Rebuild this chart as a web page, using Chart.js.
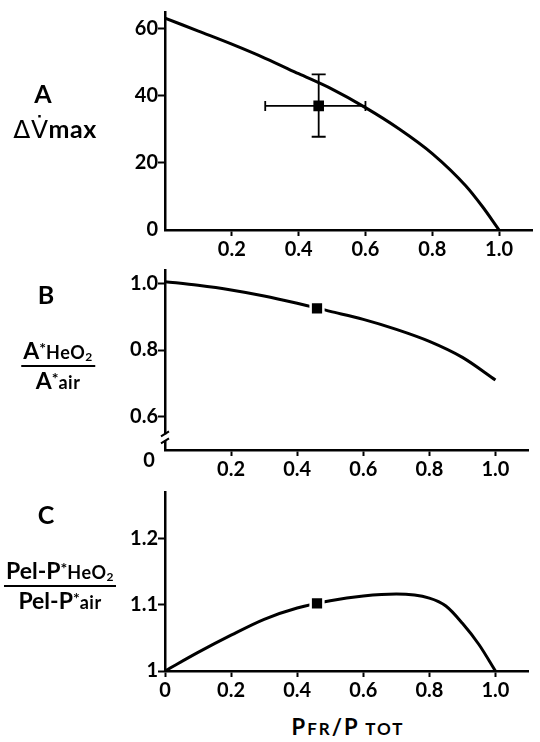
<!DOCTYPE html>
<html>
<head>
<meta charset="utf-8">
<script src="https://cdn.jsdelivr.net/npm/chart.js@4.4.0/dist/chart.umd.min.js"></script>
<style>
  body { margin: 0; background: #fff; width: 540px; height: 742px; overflow: hidden; position: relative;
         font-family: Lato, "DejaVu Sans", sans-serif; font-weight: 700; color: #000; }
  canvas { position: absolute; left: 0; }
  .lbl { position: absolute; transform: translate(-50%, -50%); white-space: nowrap; line-height: 1; }
  .panel-letter { font-size: 25px; }
  .frac { position: absolute; transform: translateX(-50%); text-align: center; font-size: 23px; line-height: 1; white-space: nowrap; }
  .frac .num { border-bottom: 2.5px solid #000; padding: 0 2px 2px 2px; }
  .frac .den { padding-top: 2px; }
  .frac sup { font-size: 16px; vertical-align: 5px; }
  .frac .s { font-size: 18px; letter-spacing: 0.5px; }
  .frac sub { font-size: 12px; vertical-align: -2px; }
  .dv { font-size: 25px; letter-spacing: 0.5px; }
  .dv .g { font-family: "DejaVu Sans", sans-serif; font-weight: 400; }
  .xt { font-size: 22px; letter-spacing: 2px; }
  .xt .sc { font-size: 17px; }
</style>
</head>
<body>
<canvas id="chartA" width="540" height="265" style="top:0"></canvas>
<canvas id="chartB" width="540" height="222" style="top:258px"></canvas>
<canvas id="chartC" width="540" height="232" style="top:480px"></canvas>

<div class="lbl panel-letter" style="left:43px;top:93px">A</div>
<div class="lbl dv" style="left:55px;top:129px"><span class="g">ΔV̇</span>max</div>

<div class="lbl panel-letter" style="left:46px;top:294px">B</div>
<div class="frac" style="left:58px;top:339px">
  <div class="num">A<sup>*</sup><span class="s">HeO<sub>2</sub></span></div>
  <div class="den">A<sup>*</sup><span class="s">air</span></div>
</div>

<div class="lbl panel-letter" style="left:46px;top:514px">C</div>
<div class="frac" style="left:60px;top:559px">
  <div class="num">Pel-P<sup>*</sup><span class="s">HeO<sub>2</sub></span></div>
  <div class="den">Pel-P<sup>*</sup><span class="s">air</span></div>
</div>

<div class="lbl xt" style="left:348px;top:727px">P<span class="sc">FR</span>/P<span class="sc"> TOT</span></div>

<script>
// Panel A: delta Vmax against Pfr/Ptot
const ratioA = [0, 0.1, 0.2, 0.3, 0.4, 0.5, 0.6, 0.7, 0.8, 0.9, 0.95, 1.0];
const dVmax = [63.2, 59.3, 55.4, 51.2, 46.6, 42.0, 36.5, 30.2, 22.8, 13.2, 7.0, 0];
const pointA = [0.46, 37];
const errXA = [0.30, 0.60];
const errYA = [27.8, 46.4];

// Panel B: A*HeO2 / A*air
const ratioB = [0, 0.1, 0.2, 0.3, 0.4, 0.5, 0.6, 0.7, 0.8, 0.9, 1.0];
const areaRatio = [1.005, 0.994, 0.980, 0.962, 0.940, 0.916, 0.892, 0.862, 0.826, 0.778, 0.710];
const pointB = [0.46, 0.925];

// Panel C: (Pel-P*HeO2) / (Pel-P*air)
const ratioC = [0, 0.1, 0.2, 0.3, 0.4, 0.5, 0.6, 0.7, 0.8, 0.85, 0.9, 0.95, 1.0];
const pressRatio = [1.0, 1.028, 1.054, 1.078, 1.095, 1.106, 1.113, 1.116, 1.110, 1.098, 1.072, 1.040, 1.0];
const pointC = [0.46, 1.102];

// tick labels
const xTicksAB = [0.2, 0.4, 0.6, 0.8, 1.0];
const xTicksC = [0, 0.2, 0.4, 0.6, 0.8, 1.0];
const yTicksA = [0, 20, 40, 60];
const yTicksB = [0.6, 0.8, 1.0];
const yTicksC = [1, 1.1, 1.2];

const tickFont = { family: 'Lato, "DejaVu Sans", sans-serif', size: 20, weight: 'bold' };

function pairs(xs, ys) {
    return xs.map((x, i) => ({ x: x, y: ys[i] }));
}

const oneDecimal = v => v.toFixed(1);
const plainZero = v => v === 0 ? '0' : v.toFixed(1);

// error bars for the measured point in panel A
const errorBars = {
    id: 'errorBars',
    beforeDatasetsDraw(chart) {
        const { ctx } = chart;
        const x = chart.scales.x, y = chart.scales.y;
        const cx = x.getPixelForValue(pointA[0]);
        const cy = y.getPixelForValue(pointA[1]);
        const x0 = x.getPixelForValue(errXA[0]), x1 = x.getPixelForValue(errXA[1]);
        const y0 = y.getPixelForValue(errYA[0]), y1 = y.getPixelForValue(errYA[1]);
        const cap = 5;
        ctx.save();
        ctx.strokeStyle = '#000';
        ctx.lineWidth = 1.8;
        ctx.beginPath();
        ctx.moveTo(x0, cy); ctx.lineTo(x1, cy);
        ctx.moveTo(x0, cy - cap); ctx.lineTo(x0, cy + cap);
        ctx.moveTo(x1, cy - cap); ctx.lineTo(x1, cy + cap);
        ctx.moveTo(cx, y0); ctx.lineTo(cx, y1);
        ctx.moveTo(cx - cap - 2, y0); ctx.lineTo(cx + cap + 2, y0);
        ctx.moveTo(cx - cap - 2, y1); ctx.lineTo(cx + cap + 2, y1);
        ctx.stroke();
        ctx.restore();
    }
};

// broken y axis in panel B, with its "0" at the bottom
const axisBreak = {
    id: 'axisBreak',
    afterDraw(chart) {
        const { ctx, chartArea } = chart;
        const y = chart.scales.y;
        const left = chartArea.left;
        const py = y.getPixelForValue(0.538);
        ctx.save();
        ctx.fillStyle = '#fff';
        ctx.fillRect(left - 3, py - 3, 6, 6);
        ctx.strokeStyle = '#000';
        ctx.lineWidth = 2;
        ctx.beginPath();
        ctx.moveTo(left - 4, py - 1); ctx.lineTo(left + 4, py - 6);
        ctx.moveTo(left - 4, py + 6); ctx.lineTo(left + 4, py + 1);
        ctx.stroke();
        ctx.fillStyle = '#000';
        ctx.font = 'bold 20px Lato, "DejaVu Sans", sans-serif';
        ctx.textAlign = 'center';
        ctx.textBaseline = 'middle';
        ctx.fillText('0', left - 16, chartArea.bottom + 11);
        ctx.restore();
    }
};

function panelOptions(p) {
    return {
        responsive: false,
        animation: false,
        layout: { padding: { left: 0, right: 3, top: p.top, bottom: 0 } },
        plugins: { legend: { display: false }, tooltip: { enabled: false } },
        scales: {
            x: {
                type: 'linear',
                min: 0,
                max: 1.1,
                afterFit: s => { s.height = p.xHeight; },
                afterBuildTicks: s => { s.ticks = p.xTicks.map(v => ({ value: v })); },
                grid: {
                    display: true,
                    drawOnChartArea: false,
                    drawTicks: true,
                    tickLength: 6,
                    tickWidth: 2,
                    color: '#000'
                },
                border: { display: true, color: '#000', width: 2.5 },
                ticks: { color: '#000', font: tickFont, padding: 2, maxRotation: 0, callback: p.xFmt }
            },
            y: {
                type: 'linear',
                min: p.yMin,
                max: p.yMax,
                afterFit: s => { s.width = 165; },
                afterBuildTicks: s => { s.ticks = p.yTicks.map(v => ({ value: v })); },
                grid: {
                    display: true,
                    drawOnChartArea: false,
                    drawTicks: true,
                    tickLength: 7,
                    tickWidth: 2,
                    color: '#000',
                    tickColor: ctx => (p.hideZeroTick && ctx.tick && ctx.tick.value === 0) ? 'rgba(0,0,0,0)' : '#000'
                },
                border: { display: true, color: '#000', width: 2.5 },
                ticks: { color: '#000', font: tickFont, padding: 0, callback: p.yFmt }
            }
        }
    };
}

function curveSet(xs, ys) {
    return {
        data: pairs(xs, ys),
        showLine: true,
        borderColor: '#000',
        borderWidth: 3,
        pointRadius: 0,
        cubicInterpolationMode: 'monotone',
        order: 2
    };
}

function markerSet(pt, gap) {
    return {
        data: [{ x: pt[0], y: pt[1] }],
        showLine: false,
        pointStyle: 'rect',
        pointRadius: gap ? 9 : 7.5,
        backgroundColor: '#000',
        borderColor: gap ? '#fff' : '#000',
        borderWidth: gap ? 2.5 : 0,
        order: 1
    };
}

document.addEventListener('DOMContentLoaded', function() {
    new Chart(document.getElementById('chartA'), {
        type: 'scatter',
        data: { datasets: [curveSet(ratioA, dVmax), markerSet(pointA, false)] },
        options: panelOptions({ top: 9, xHeight: 35, yMin: 0, yMax: 65, xTicks: xTicksAB, yTicks: yTicksA,
                                xFmt: oneDecimal, yFmt: v => String(v), hideZeroTick: true }),
        plugins: [errorBars]
    });

    new Chart(document.getElementById('chartB'), {
        type: 'scatter',
        data: { datasets: [curveSet(ratioB, areaRatio), markerSet(pointB, true)] },
        options: panelOptions({ top: 7.5, xHeight: 30, yMin: 0.5, yMax: 1.04, xTicks: xTicksAB, yTicks: yTicksB,
                                xFmt: oneDecimal, yFmt: oneDecimal }),
        plugins: [axisBreak]
    });

    new Chart(document.getElementById('chartC'), {
        type: 'scatter',
        data: { datasets: [curveSet(ratioC, pressRatio), markerSet(pointC, true)] },
        options: panelOptions({ top: 5, xHeight: 41, yMin: 1, yMax: 1.27, xTicks: xTicksC, yTicks: yTicksC,
                                xFmt: plainZero, yFmt: v => v === 1 ? '1' : v.toFixed(1) }),
        plugins: []
    });
});
</script>
</body>
</html>
